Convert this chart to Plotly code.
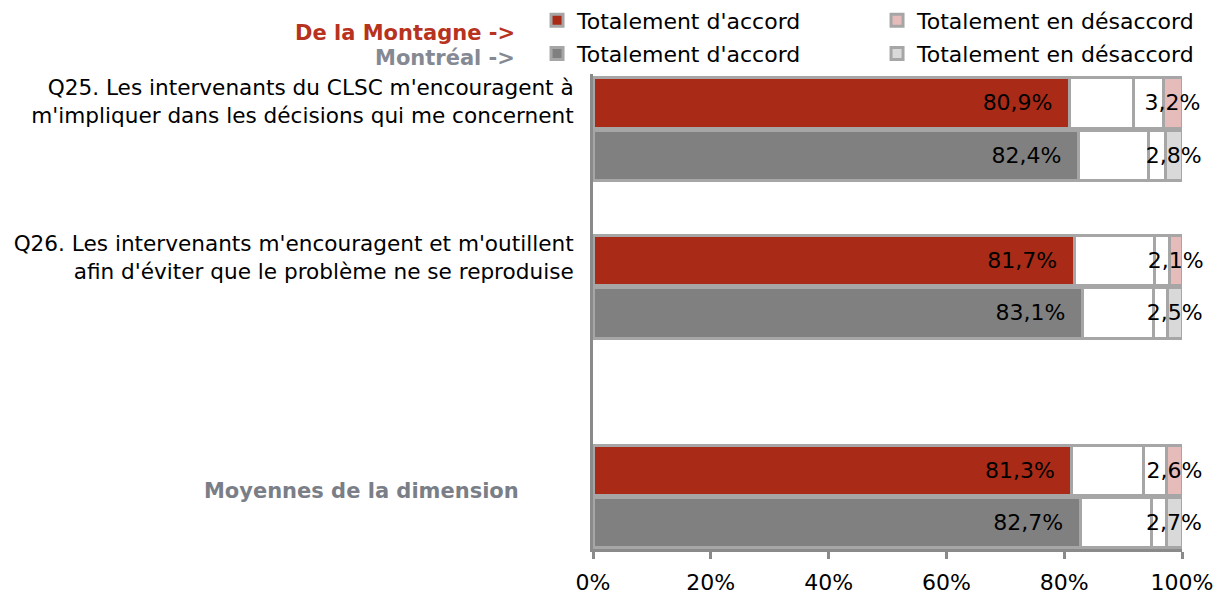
import plotly.graph_objects as go

categories = [
    "Q25. Les intervenants du CLSC m'encouragent à<br>m'impliquer dans les décisions qui me concernent",
    "Q26. Les intervenants m'encouragent et m'outillent<br>afin d'éviter que le problème ne se reproduise",
    "Moyennes de la dimension",
]
# shares (%) : Totalement d'accord, Plutôt d'accord, Plutôt en désaccord, Totalement en désaccord
dlm_ta = [80.9, 81.7, 81.3]
dlm_pa = [10.8, 13.7, 12.1]
dlm_pd = [5.1, 2.5, 4.0]
dlm_td = [3.2, 2.1, 2.6]
mtl_ta = [82.4, 83.1, 82.7]
mtl_pa = [11.9, 12.1, 12.2]
mtl_pd = [2.9, 2.3, 2.4]
mtl_td = [2.8, 2.5, 2.7]

group_pos = [0, 3, 7]
tick_shift = [-0.53, -0.55, -0.12]

FONT = "DejaVu Sans"
FS = 22
RED = "#A92B17"
PINK = "#E6BCBB"
GRAY = "#808080"
LGRAY = "#D9D9D9"
BORDER = "#A6A6A6"
AXIS = "#8A8A8A"

def fmt(v):
    return f"{v:.1f}".replace(".", ",") + "%"

fig = go.Figure()

series = [
    ("dlm", -0.5, [
        ("Totalement d'accord", dlm_ta, RED, True, "ta"),
        ("Plutôt d'accord", dlm_pa, "white", False, None),
        ("Plutôt en désaccord", dlm_pd, "white", False, None),
        ("Totalement en désaccord", dlm_td, PINK, True, "td"),
    ], "legend"),
    ("mtl", 0.5, [
        ("Totalement d'accord", mtl_ta, GRAY, True, "ta"),
        ("Plutôt d'accord", mtl_pa, "white", False, None),
        ("Plutôt en désaccord", mtl_pd, "white", False, None),
        ("Totalement en désaccord", mtl_td, LGRAY, True, "td"),
    ], "legend2"),
]

for key, off, parts, leg in series:
    ys = [g + off for g in group_pos]
    for name, vals, color, show, lab in parts:
        kw = {}
        if lab == "ta":
            kw = dict(text=[fmt(v) + "\u00a0\u00a0" for v in vals], textposition="inside",
                      insidetextanchor="end")
        elif lab == "td":
            kw = dict(text=[fmt(v) for v in vals], textposition="inside",
                      insidetextanchor="middle")
        fig.add_trace(go.Bar(
            x=[v / 100 for v in vals], y=ys, orientation="h", name=name,
            width=0.96, marker=dict(color=color, line=dict(color=BORDER, width=3)),
            showlegend=show, legend=leg, textangle=0, constraintext="none",
            textfont=dict(family=FONT, size=FS, color="black"),
            cliponaxis=False, hoverinfo="skip", **kw))

ticktext = categories[:2] + [
    "<b><span style='color:#7A7E87;font-size:21px'>" + categories[2] + "</span></b>"
    + "\u00a0" * 8
]

fig.update_layout(
    width=1214, height=588,
    margin=dict(l=585, r=40, t=66, b=47, autoexpand=False),
    barmode="stack",
    plot_bgcolor="white", paper_bgcolor="white",
    font=dict(family=FONT, size=FS, color="black"),
    xaxis=dict(range=[0, 1], tickvals=[0, 0.2, 0.4, 0.6, 0.8, 1.0], tickformat=".0%",
               showgrid=False, zeroline=False, showline=True, linecolor=AXIS, linewidth=3,
               ticks="outside", ticklen=7, tickwidth=3, tickcolor=AXIS, ticklabelstandoff=5,
               tickfont=dict(family=FONT, size=FS, color="black")),
    yaxis=dict(range=[8, -1.05], tickvals=[g + s for g, s in zip(group_pos, tick_shift)],
               ticktext=ticktext, showgrid=False, zeroline=False, showline=True,
               linecolor=AXIS, linewidth=3, ticks="", ticklabelstandoff=12,
               tickfont=dict(family=FONT, size=21.6, color="black")),
    legend=dict(orientation="h", x=-0.095, xanchor="left", y=1.113, yanchor="middle",
                entrywidth=295, traceorder="normal",
                font=dict(family=FONT, size=FS, color="black"),
                bgcolor="rgba(0,0,0,0)", itemclick=False, itemdoubleclick=False),
    legend2=dict(orientation="h", x=-0.095, xanchor="left", y=1.043, yanchor="middle",
                 entrywidth=295, traceorder="normal",
                 font=dict(family=FONT, size=FS, color="black"),
                 bgcolor="rgba(0,0,0,0)", itemclick=False, itemdoubleclick=False),
    annotations=[
        dict(text="<b>De la Montagne -></b>", x=-0.129, y=1.086, xref="paper", yref="paper",
             xanchor="right", yanchor="middle", showarrow=False,
             font=dict(family=FONT, size=21, color="#B83220")),
        dict(text="<b>Montréal -></b>", x=-0.129, y=1.034, xref="paper", yref="paper",
             xanchor="right", yanchor="middle", showarrow=False,
             font=dict(family=FONT, size=21, color="#858993")),
    ],
)

fig.write_html("out.html")
